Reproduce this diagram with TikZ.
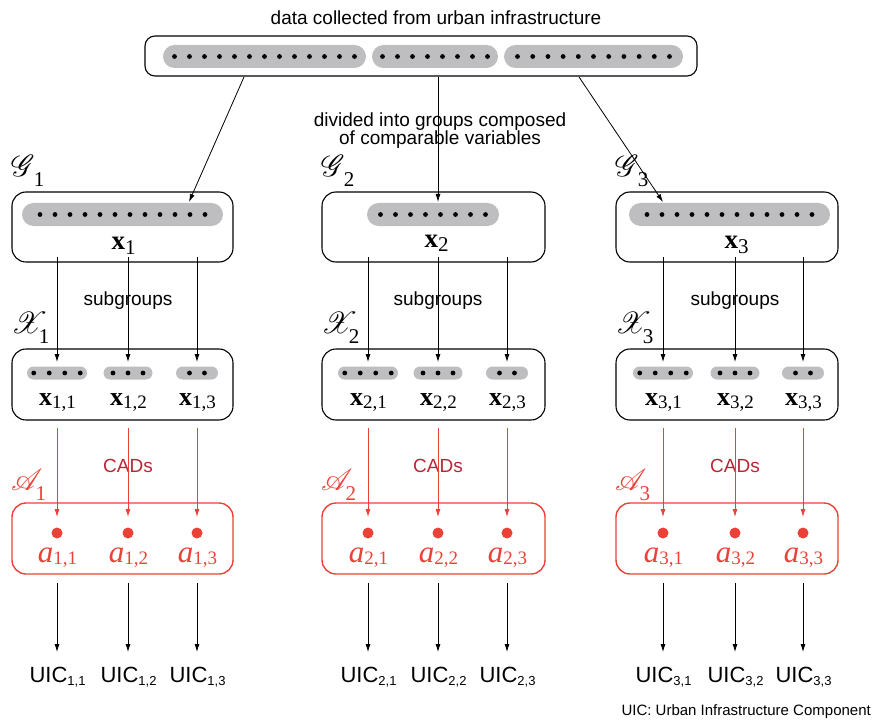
\documentclass[tikz,border=0pt]{standalone}
\usepackage{fontspec}
\setmainfont{Liberation Sans}
\newfontfamily\tms{Liberation Serif}
\usepackage{mathrsfs}
\usepackage{graphicx}
\usetikzlibrary{arrows.meta}

\definecolor{pillgray}{RGB}{190,190,192}
\definecolor{redline}{RGB}{234,66,56}
\definecolor{cadred}{RGB}{185,38,52}

% grey capsule holding a row of evenly spaced dots
% #1 style, #2 name, #3 cx, #4 cy, #5 width, #6 number of dots, #7 spacing
\newcommand\dotpill[7]{%
  \node[#1, minimum width=#5pt] (#2) at (#3,#4) {};
  \foreach \k in {1,...,#6}{\fill ({#3+(\k-(#6+1)/2)*#7},#4) circle (2.4pt);}
}
% bold vector with subscript
\newcommand\vecx[4]{{\fontsize{#1}{#1}\selectfont\tms\bfseries x}\raisebox{#3}{\fontsize{#2}{#2}\selectfont\tms #4}}
% italic scalar with subscript
\newcommand\scal[1]{{\fontsize{31}{31}\selectfont\tms\itshape a}\raisebox{-2pt}{\fontsize{19}{19}\selectfont\tms #1}}
% script set name with subscript
\newcommand\setname[3]{\scalebox{1.22}{\fontsize{24.88}{25}\selectfont$\mathscr{#1}$}\kern#3\raisebox{-10pt}{\fontsize{21}{21}\selectfont\tms #2}}
% component label
\newcommand\uic[1]{{\fontsize{22}{22}\selectfont UIC}\raisebox{-3pt}{\fontsize{13}{13}\selectfont #1}}

\begin{document}
\begin{tikzpicture}[x=1pt,y=-1pt,
  panel/.style={draw=black, line width=1.1pt, rounded corners=14pt, inner sep=0pt, minimum height=71pt},
  redpanel/.style={panel, draw=redline, line width=1.4pt},
  bigpill/.style={fill=pillgray, rounded corners=11.5pt, inner sep=0pt, minimum height=23pt},
  smallpill/.style={fill=pillgray, rounded corners=6.5pt, inner sep=0pt, minimum height=13pt},
  arr/.style={-{Latex[length=8pt,width=5pt]}, line width=0.8pt},
  redarr/.style={arr, draw=redline},
  sanslab/.style={font=\fontsize{19}{19}\selectfont, inner sep=0pt, anchor=base},
  mathlab/.style={inner sep=0pt, anchor=base},
]
\useasboundingbox (0,0) rectangle (874,727);

% ---- raw data ----
\node[sanslab] (title) at (436,25) {data collected from urban infrastructure};
\node[panel, minimum width=552pt, minimum height=40pt, rounded corners=10pt] (top) at (421,56) {};
\dotpill{bigpill}{raw1}{264.5}{56.5}{203}{13}{15}
\dotpill{bigpill}{raw2}{435}{56.5}{126}{8}{15}
\dotpill{bigpill}{raw3}{593.5}{56.5}{179}{11}{15.2}

\node[sanslab] (div1) at (440,127) {divided into groups composed};
\node[sanslab] (div2) at (440,145) {of comparable variables};

% ---- groups ----
\node[panel, minimum width=221pt, minimum height=70pt] (g1) at (122.5,227) {};
\node[panel, minimum width=223pt, minimum height=70pt] (g2) at (433.5,227) {};
\node[panel, minimum width=222pt, minimum height=70pt] (g3) at (727,227) {};
\dotpill{bigpill}{gp1}{122.5}{214.5}{201}{12}{15}
\dotpill{bigpill}{gp2}{433}{214.5}{132}{8}{15}
\dotpill{bigpill}{gp3}{729.5}{214.5}{201}{12}{15}
\node[mathlab] (gx1) at (123.5,249) {\vecx{27}{21}{-5pt}{1}};
\node[mathlab] (gx2) at (436.5,247) {\vecx{27}{21}{-5pt}{2}};
\node[mathlab] (gx3) at (736.5,248) {\vecx{27}{21}{-5pt}{3}};
\node[mathlab, anchor=base west] (gn1) at (11,177) {\setname{G}{1}{-1pt}};
\node[mathlab, anchor=base west] (gn2) at (321,177) {\setname{G}{2}{-1pt}};
\node[mathlab, anchor=base west] (gn3) at (615,177) {\setname{G}{3}{-1pt}};

\coordinate (s1) at (244,77);  \coordinate (t1) at (189,202);
\coordinate (s2) at (438,77);  \coordinate (t2) at (438,202);
\coordinate (s3) at (579,77);  \coordinate (t3) at (663,202);
\draw[arr] (s1) -- (t1);
\draw[arr] (s2) -- (t2);
\draw[arr] (s3) -- (t3);

% ---- subgroups, CADs and components, one column block per group ----
\foreach \c/\cx/\w/\xa/\xb/\xd in {1/122.5/221/57/128/197, 2/433.5/223/368/438/507, 3/727/222/663/735/803}{
  \node[panel, minimum width=\w pt] (x\c) at (\cx,384.5) {};
  \node[redpanel, minimum width=\w pt] (a\c) at (\cx,538.5) {};
  \node[mathlab, anchor=base west] (xn\c) at ({\cx-\w/2-1},333) {\setname{X}{\c}{-9pt}};
  \node[mathlab, anchor=base west, text=redline] (an\c) at ({\cx-\w/2-1},490) {\setname{A}{\c}{-7pt}};
  \node[sanslab] (sg\c) at (\xb,305) {subgroups};
  \node[sanslab, text=cadred] (cad\c) at (\xb,472) {CADs};
  \dotpill{smallpill}{xp\c-1}{\xa}{373}{60}{4}{15.5}
  \dotpill{smallpill}{xp\c-2}{\xb}{373}{49}{3}{15}
  \dotpill{smallpill}{xp\c-3}{\xd}{373}{42}{2}{15}
  \foreach \j/\px in {1/\xa, 2/\xb, 3/\xd}{
    \coordinate (gs\c-\j) at (\px,257);
    \coordinate (xt\c-\j) at (\px,362);
    \draw[arr] (gs\c-\j) -- (xt\c-\j);
    \node[mathlab] (xl\c-\j) at ({\px+0.5},405) {\vecx{26}{19}{-3pt}{\c,\j}};
    \coordinate (xs\c-\j) at (\px,428);
    \coordinate (at\c-\j) at (\px,517);
    \draw[redarr] (xs\c-\j) -- (at\c-\j);
    \node[circle, fill=redline, minimum size=11pt, inner sep=0pt] (ad\c-\j) at (\px,533) {};
    \node[mathlab, text=redline] (al\c-\j) at ({\px+0.5},562) {\scal{\c,\j}};
    \coordinate (as\c-\j) at (\px,583);
    \node[mathlab] (u\c-\j) at ({\px+0.5},682) {\uic{\c,\j}};
    \draw[arr] (as\c-\j) -- (\px,652);
  }
}

\node[inner sep=0pt, anchor=base east, font=\fontsize{15}{15}\selectfont] (note) at (871,715) {UIC: Urban Infrastructure Component};
\end{tikzpicture}
\end{document}
